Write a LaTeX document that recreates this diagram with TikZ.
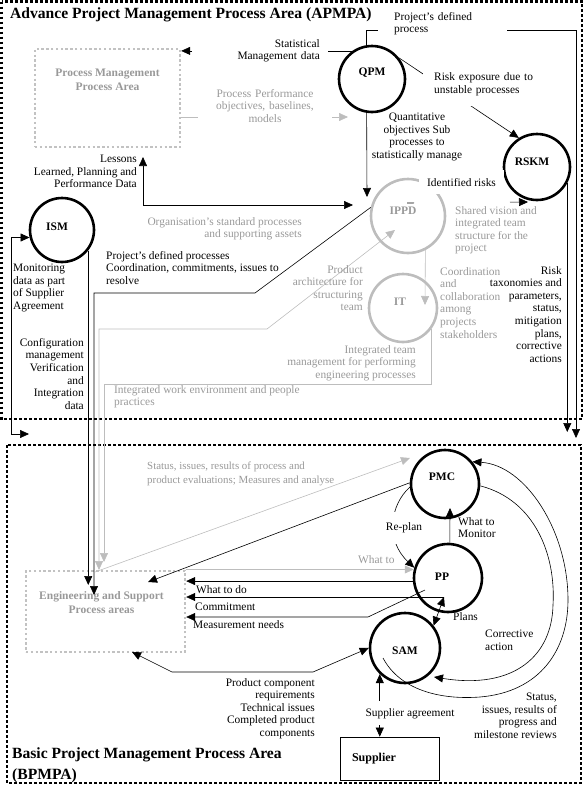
\documentclass[tikz,border=0pt]{standalone}
\usepackage{fontspec}
\setmainfont{Liberation Serif}
\usetikzlibrary{arrows.meta}
\definecolor{txtgray}{gray}{0.6}
\definecolor{linegray}{gray}{0.74}
\definecolor{boxgray}{gray}{0.76}
\newcommand{\bodyfont}{\fontsize{11.4}{12.6}\selectfont}
\newcommand{\namefont}{\fontsize{11.5}{14}\selectfont\bfseries}
\newcommand{\titlefont}{\fontsize{15.6}{21}\selectfont\bfseries}
\tikzset{
  area/.style={line width=2.6pt, dash pattern=on 2.6pt off 2.4pt},
  garea/.style={draw=boxgray, line width=2.4pt, dash pattern=on 2.4pt off 2.4pt},
  proc/.style={circle, draw, line width=2.6pt, inner sep=0pt},
  gproc/.style={circle, draw=linegray, line width=2.6pt, inner sep=0pt},
  cname/.style={font=\namefont},
  gname/.style={font=\namefont, text=txtgray, align=center},
  note/.style={font=\bodyfont, inner sep=0pt},
  gnote/.style={note, text=txtgray},
  cover/.style={fill=white},
  title/.style={font=\titlefont, inner sep=0pt},
  arr/.style={line width=0.6pt, -{Triangle[length=9pt,width=8pt]}},
  arrs/.style={line width=0.6pt, {Triangle[length=9pt,width=8pt]}-{Triangle[length=9pt,width=8pt]}},
  garr/.style={arr, draw=linegray},
  garrs/.style={arrs, draw=linegray},
}

\begin{document}
\begin{tikzpicture}[x=1pt, y=-1pt]
  \useasboundingbox (0,0) rectangle (585,788);
  \draw[area] (1.5,1.5) rectangle (582,419);
  \draw[area] (7,445) rectangle (581,783);
  \node[title, anchor=base west] (tapm) at (10,18.5) {Advance Project Management Process Area (APMPA)};
  \node[title, anchor=north west, align=left] (tbpm) at (12,747) {Basic Project Management Process Area\\(BPMPA)};

  \node[garea, minimum width=145pt, minimum height=98pt,
    label={[gname, anchor=north, yshift=-18pt]north:Process Management\\Process Area}] (pma) at (107.5,98) {};
  \node[garea, minimum width=159pt, minimum height=81pt,
    label={[gname, anchor=north, xshift=-4pt, yshift=-18pt]north:Engineering and Support\\Process areas}] (eng) at (105.5,611.5) {};
  \node[draw, line width=0.7pt, minimum width=99pt, minimum height=43pt, text width=75pt, align=left,
    font=\fontsize{12}{14}\selectfont\bfseries] (supp) at (389.5,758.5) {Supplier};

  \node[proc, minimum size=66pt, label={[cname, yshift=6pt]center:QPM}] (qpm) at (372,79) {};
  \node[proc, minimum size=66pt, label={[cname, xshift=-5pt, yshift=5pt]center:RSKM}] (rskm) at (537,167) {};
  \node[gproc, minimum size=74pt, label={[gname, xshift=-5pt, yshift=5pt]center:IPPD}] (ippd) at (408,216) {};
  \node[gproc, minimum size=68pt, label={[gname, xshift=-3pt, yshift=6pt]center:IT}] (it) at (403,308) {};
  \node[proc, minimum size=64pt, label={[cname, xshift=-5pt, yshift=3pt]center:ISM}] (ism) at (62,230) {};
  \node[proc, minimum size=68pt, label={[cname, xshift=-3pt, yshift=7pt]center:PMC}] (pmc) at (445,484) {};
  \node[proc, minimum size=68pt, label={[cname, xshift=-6pt, yshift=1pt]center:PP}] (pp) at (448,578) {};
  \node[proc, minimum size=70pt, label={[cname, yshift=-3pt]center:SAM}] (sam) at (405,648) {};

  \foreach \n/\x/\y in {ppTip/348/117, qpmTip/367/197, pdpEnd/576/438, rtaxEnd/565/432,
      irStart/407/203, irEnd/528/202, itTip/425/305, lesTip/143/157, orgTip/353/205,
      pdEnd/94/595, paTip/395/230, paEnd/99/570, iwEnd/104/562, cvEnd/87/585,
      monCorner/11/434, monEnd/29/434, stStart/95/572, stTip/410/458, pmTip/148/582,
      wmTip/450/508, plTip/444/597, mnStart/425/590, pcTip/132/652, caTip/434/677,
      srStart/383/658}
    \coordinate (\n) at (\x,\y);

  \draw[arr] (qpm.125) -- (qpm.125 -| pma.east);
  \draw[garr] (ppTip -| pma.east) -- (ppTip);
  \draw[arr] (qpm.261) -- (qpmTip);
  \draw[arr] (qpm.100) |- (pdpEnd |- 0,30) -- (pdpEnd);
  \draw[arr] (qpm.38) -- (rskm.122);
  \draw[arr] (rskm.-28) -- (rskm.-28 |- rtaxEnd);
  \draw[arr, dash pattern=on 7pt off 96pt on 30pt] (irStart) -- (irEnd);
  \draw[garr] (ippd.-63) -- (itTip);
  \draw[arrs] (lesTip) |- (orgTip);
  \draw[arr] (ippd.167) -- (255,293) -| (pdEnd);
  \draw[garrs] (paTip) -- (267,329) -| (paEnd);
  \draw[garr] (it.-37) -- ++(0,55) -| (iwEnd);
  \draw[arr] (ism.-38) -- (ism.-38 |- cvEnd);
  \draw[arr] (monCorner) |- (ism.193);
  \draw[arr] (monCorner) -- (monEnd);

  \draw[garr] (stStart) -- (stTip);
  \draw[arr] (pmc.178) -- (pmTip);
  \draw[arr] (pmc.185) .. controls (390,505) and (385,540) .. (pp.163);
  \draw[arr] (pp.87) -- (wmTip);
  \draw[garr] (pp.166 -| eng.east) -- (pp.166);
  \draw[arr] (pp.185) -- (pp.185 -| eng.east);
  \draw[arr] (plTip) -- (plTip -| eng.east);
  \draw[arr] (mnStart) -- (368,617) -- (eng.east |- 0,617);
  \draw[arrs] (sam.38) -- (plTip);
  \draw[arrs] (pcTip) -- (172,672) -- (313,672) -- (sam.180);
  \draw[arrs] (sam.226) -- (sam.226 |- supp.north);
  \draw[arr] (pmc.-3) .. controls (535,500) and (556,555) .. (553,605)
    .. controls (552,655) and (515,690) .. (caTip);
  \draw[arr] (srStart) .. controls (400,690) and (440,700) .. (480,697)
    .. controls (540,692) and (568,650) .. (568,600)
    .. controls (568,530) and (525,465) .. (pmc.39);

  \node[note, cover, anchor=north west, inner xsep=16pt, inner ysep=2pt, text width=97pt, align=left] (pdp) at (378,10) {Project’s defined\\process};
  \node[note, cover, anchor=north east, inner xsep=8pt, inner ysep=2pt, text width=120pt, align=right] (smd) at (328,37) {Statistical\\Management data};
  \node[note, cover, anchor=north west, inner xsep=11pt, inner ysep=0pt, text width=106pt, minimum height=44pt, align=left] (rex) at (423,62) {Risk exposure due to\\unstable processes};
  \node[gnote, cover, anchor=north, inner xsep=12pt, inner ysep=3pt, text width=110pt, align=center] (ppo) at (265,86) {Process Performance\\objectives, baselines,\\models};
  \node[note, anchor=north, align=center] (qos) at (417,113) {Quantitative\\objectives Sub\\processes to\\statistically manage};
  \node[note, anchor=north east, align=right] (lpd) at (137,155) {Lessons\\Learned, Planning and\\Performance Data};
  \node[gnote, anchor=north east, align=right] (osp) at (302,217) {Organisation’s standard processes\\and supporting assets};
  \node[note, cover, anchor=base west, inner xsep=8pt, inner ysep=8pt] (irk) at (419,186) {Identified risks};
  \node[gnote, anchor=north west, align=left] (svi) at (455,206) {Shared vision and\\integrated team\\structure for the\\project};
  \node[gnote, anchor=north west, align=left] (ccs) at (440,267) {Coordination\\and\\collaboration\\among\\projects\\stakeholders};
  \node[note, anchor=north east, align=right] (rtx) at (562,266) {Risk\\taxonomies and\\parameters,\\status,\\mitigation\\plans,\\corrective\\actions};
  \node[gnote, anchor=north east, align=right] (pas) at (363,265) {Product\\architecture for\\structuring\\team};
  \node[gnote, anchor=north east, align=right] (itm) at (416,345) {Integrated team\\management for performing\\engineering processes};
  \node[gnote, anchor=north west, align=left] (iwe) at (114,385) {Integrated work environment and people\\practices};
  \node[note, anchor=north west, align=left] (pdc) at (106,251) {Project’s defined processes\\Coordination, commitments, issues to\\resolve};
  \node[note, anchor=north west, align=left] (mon) at (13,264) {Monitoring\\data as part\\of Supplier\\Agreement};
  \node[note, anchor=north east, align=right] (cfg) at (84,338) {Configuration\\management\\Verification\\and\\Integration\\data};

  \node[gnote, anchor=north west, align=left, font=\fontsize{10.9}{13.5}\selectfont] (sir) at (147,462) {Status, issues, results of process and\\product evaluations; Measures and analyse};
  \node[gnote, anchor=base west] (wto) at (358,563) {What to};
  \node[note, anchor=base west] (wtd) at (196,593) {What to do};
  \node[note, anchor=base west] (cmt) at (195,610) {Commitment};
  \node[note, anchor=base west] (mns) at (193,628) {Measurement needs};
  \node[note, anchor=north west, align=left] (wtm) at (458,517) {What to\\Monitor};
  \node[note, cover, inner xsep=2pt, inner ysep=11pt] (rpl) at (404,528) {Re-plan};
  \node[note, anchor=base west] (pln) at (453,620) {Plans};
  \node[note, anchor=north west, align=left] (cac) at (485,630) {Corrective\\action};
  \node[note, anchor=north east, align=right] (pcr) at (315,678) {Product component\\requirements\\Technical issues\\Completed product\\components};
  \node[note, cover, anchor=base, inner xsep=2pt, inner ysep=7pt] (sag) at (410,716) {Supplier agreement};
  \node[note, anchor=north east, align=right] (sis) at (557,693) {Status,\\issues, results of\\progress and\\milestone reviews};
\end{tikzpicture}
\end{document}
